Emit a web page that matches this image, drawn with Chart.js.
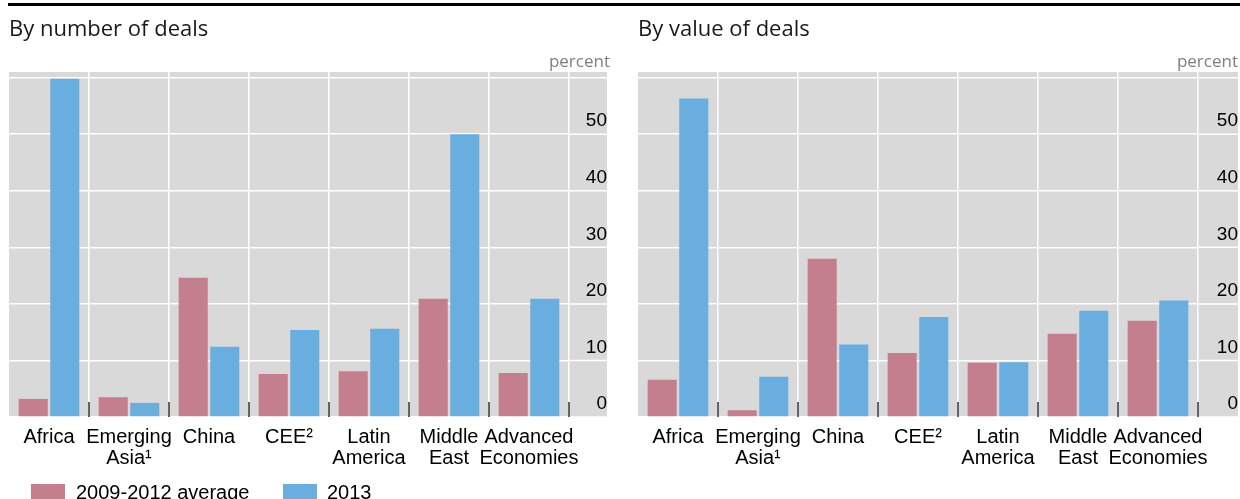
<!DOCTYPE html>
<html>
<head>
<meta charset="utf-8">
<script src="https://cdn.jsdelivr.net/npm/chart.js@4.4.1/dist/chart.umd.min.js"></script>
<style>
  body { margin: 0; width: 1240px; height: 499px; overflow: hidden; background: #fff; position: relative; }
  .rule { position: absolute; left: 8px; right: 0; top: 3px; height: 3px; background: #000; }
  .panel { position: absolute; top: 0; width: 620px; height: 499px; }
  .panel canvas { position: absolute; left: 0; top: 0; }
  .title { position: absolute; top: 12px; font-family: "Open Sans", sans-serif; font-size: 22px; color: #1a1a1a; white-space: nowrap; }
  .unit { position: absolute; top: 49px; font-family: "Open Sans", sans-serif; font-size: 17px; color: #7f7f7f; text-align: right; }
  .legend { position: absolute; left: 0; top: 482px; font-family: "Liberation Sans", Arial, sans-serif; font-size: 20px; line-height: 20px; color: #000; }
  .legend span.sw { position: absolute; top: 2px; width: 34px; height: 16px; }
  .legend span.tx { position: absolute; top: 0; white-space: nowrap; }
</style>
</head>
<body>
<div class="rule"></div>

<div class="panel" style="left:0">
  <canvas id="numberChart" width="620" height="499"></canvas>
  <div class="title" style="left:9px">By number of deals</div>
  <div class="unit" style="right:10px">percent</div>
</div>

<div class="panel" style="left:620px">
  <canvas id="valueChart" width="620" height="499"></canvas>
  <div class="title" style="left:18px">By value of deals</div>
  <div class="unit" style="right:2px">percent</div>
</div>

<div class="legend" id="legend"></div>

<script>
const categories = [
  ['Africa'],
  ['Emerging', 'Asia\u00b9'],
  ['China'],
  ['CEE\u00b2'],
  ['Latin', 'America'],
  ['Middle', 'East'],
  ['Advanced', 'Economies']
];
const seriesNames = ['2009-2012 average', '2013'];
const seriesColors = ['#C47F8E', '#6AAEE0'];

// By number of deals
const numberAvg  = [3.2, 3.5, 24.6, 7.6, 8.1, 20.9, 7.8];
const number2013 = [59.8, 2.5, 12.4, 15.4, 15.6, 50.0, 20.9];

// By value of deals
const valueAvg  = [6.6, 1.2, 28.0, 11.3, 9.6, 14.7, 17.0];
const value2013 = [56.3, 7.1, 12.8, 17.7, 9.7, 18.8, 20.6];

const yMax = 61;
const yStep = 10;
const yLabelMax = 50; // gridline at 60 has no label
const gray = '#D9D9D9';

// gray plot panel that also covers the label column on the right
const panelBg = {
  id: 'panelBg',
  beforeDraw(chart) {
    const { ctx, chartArea: a } = chart;
    const y = chart.scales.y;
    ctx.save();
    ctx.fillStyle = gray;
    ctx.fillRect(a.left, a.top, y.right - a.left, a.bottom - a.top);
    ctx.strokeStyle = '#fff';
    ctx.lineWidth = 1.5;
    y.ticks.forEach(t => {
      const py = y.getPixelForValue(t.value);
      ctx.beginPath();
      ctx.moveTo(a.right, py);
      ctx.lineTo(y.right, py);
      ctx.stroke();
    });
    ctx.restore();
  },
  afterDatasetsDraw(chart) {
    const { ctx, chartArea: a } = chart;
    const x = chart.scales.x;
    const step = x.getPixelForValue(1) - x.getPixelForValue(0);
    ctx.save();
    ctx.strokeStyle = '#333';
    ctx.lineWidth = 1.5;
    for (let i = 0; i < categories.length; i++) {
      const px = x.getPixelForValue(i) + step / 2;
      ctx.beginPath();
      ctx.moveTo(px, a.bottom - 15);
      ctx.lineTo(px, a.bottom);
      ctx.stroke();
    }
    ctx.restore();
  }
};

function makeChart(id, avg, cur, padLeft, padRight, axisWidth) {
  return new Chart(document.getElementById(id), {
    type: 'bar',
    data: {
      labels: categories,
      datasets: [
        { label: seriesNames[0], data: avg, backgroundColor: seriesColors[0] },
        { label: seriesNames[1], data: cur, backgroundColor: seriesColors[1] }
      ]
    },
    options: {
      responsive: false,
      animation: false,
      layout: { padding: { left: padLeft, right: padRight, top: 72, bottom: 22 } },
      datasets: { bar: { categoryPercentage: 0.79, barPercentage: 0.92 } },
      plugins: { legend: { display: false }, tooltip: { enabled: false } },
      scales: {
        x: {
          grid: {
            offset: true,
            drawTicks: false,
            lineWidth: 1.5,
            color: c => (c.index === 0 ? 'rgba(0,0,0,0)' : '#fff')
          },
          border: { display: false },
          ticks: {
            autoSkip: false,
            maxRotation: 0,
            padding: 10,
            color: '#000',
            font: { family: '"Liberation Sans", Arial, sans-serif', size: 20, lineHeight: 1.05 }
          },
          afterFit: s => { s.height = 60; }
        },
        y: {
          position: 'right',
          min: 0,
          max: yMax,
          grid: { drawTicks: false, lineWidth: 1.5, color: '#fff' },
          border: { display: false },
          ticks: {
            stepSize: yStep,
            includeBounds: false,
            crossAlign: 'far',
            padding: 11,
            labelOffset: -13,
            color: '#000',
            font: { family: '"Liberation Sans", Arial, sans-serif', size: 19 },
            callback: v => (v > yLabelMax ? '' : v)
          },
          afterFit: s => { s.width = axisWidth; }
        }
      }
    },
    plugins: [panelBg]
  });
}

makeChart('numberChart', numberAvg, number2013, 9, 13, 38);
makeChart('valueChart', valueAvg, value2013, 18, 2, 40);

// legend under the left panel
const legend = document.getElementById('legend');
const legendPos = [[31, 76], [283, 327]];
seriesNames.forEach((name, i) => {
  const sw = document.createElement('span');
  sw.className = 'sw';
  sw.style.left = legendPos[i][0] + 'px';
  sw.style.background = seriesColors[i];
  const tx = document.createElement('span');
  tx.className = 'tx';
  tx.style.left = legendPos[i][1] + 'px';
  tx.textContent = name;
  legend.appendChild(sw);
  legend.appendChild(tx);
});
</script>
</body>
</html>
